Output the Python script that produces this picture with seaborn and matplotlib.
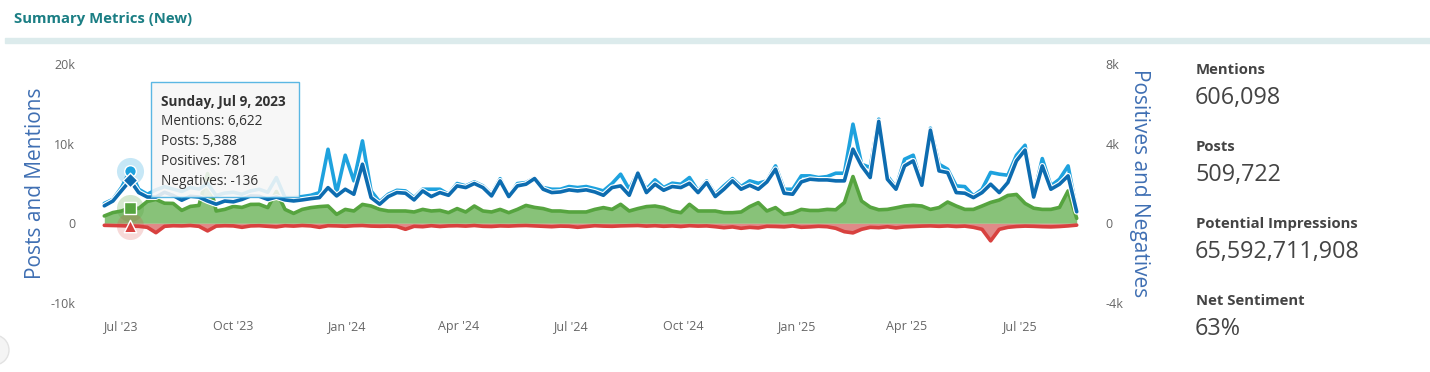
import pandas as pd
import seaborn as sns
import matplotlib.pyplot as plt
import matplotlib.dates as mdates
import matplotlib.patheffects as pe
from matplotlib.patches import Rectangle, Ellipse
from matplotlib.ticker import FuncFormatter

# weekly data, Sundays from Jun 18, 2023
weeks = pd.date_range("2023-06-18", periods=114, freq="7D")

mentions = [
    2500, 3000, 4500, 6622, 4280, 3650, 4200, 4600, 4300, 4000,
    4500, 4300, 5000, 3500, 3800, 3900, 3650, 4070, 4280, 3900,
    5750, 3230, 3230, 3360, 3520, 3850, 9300, 3850, 8550, 5330,
    10350, 4070, 2700, 3650, 4150, 4070, 3230, 4280, 4280, 4280,
    3650, 5000, 4700, 5200, 4700, 3650, 5600, 3360, 4990, 5120,
    5700, 4490, 4280, 4280, 4620, 4490, 4620, 4360, 4070, 4990,
    6170, 4280, 6380, 4280, 5460, 4490, 5040, 4910, 5750, 4070,
    5330, 3650, 4700, 5620, 4620, 5330, 5030, 5330, 7210, 4280,
    4280, 5960, 5960, 5750, 5870, 6290, 6290, 12450, 7420, 7000,
    13080, 5960, 4490, 8050, 8550, 4910, 11950, 7420, 6790, 4700,
    4610, 3440, 4280, 6390, 6170, 6040, 8550, 9800, 3440, 8130,
    4700, 5540, 7210, 1550,
]
posts = [
    2200, 2800, 4100, 5388, 3860, 3300, 3300, 3900, 3500, 2900,
    3400, 3300, 2800, 2400, 2800, 2700, 3000, 3440, 3400, 3000,
    3300, 2940, 2810, 2940, 3100, 3230, 4480, 3440, 4280, 3650,
    7420, 3230, 2400, 3360, 3860, 3780, 2940, 4070, 3360, 3860,
    3520, 4700, 4490, 5000, 4490, 3440, 5330, 3360, 4700, 4910,
    5620, 4280, 3860, 3940, 4200, 4070, 4200, 3940, 3520, 4490,
    4700, 3520, 6300, 3860, 4910, 4150, 4620, 4490, 5030, 3860,
    5120, 3360, 4280, 5330, 4280, 4780, 4280, 5200, 6790, 3780,
    3650, 5200, 5540, 5450, 5450, 5330, 5330, 9310, 7210, 5750,
    12800, 5540, 4280, 7210, 7840, 4780, 11700, 6580, 6370, 3860,
    3780, 3230, 3860, 4910, 3860, 5120, 7840, 9200, 3300, 7210,
    4280, 4910, 5960, 1450,
]
positives = [
    370, 540, 620, 781, 750, 1100, 1200, 1010, 1000, 650,
    850, 900, 2500, 620, 700, 850, 800, 950, 955, 790,
    1600, 700, 500, 700, 790, 840, 870, 450, 700, 620,
    950, 870, 700, 620, 620, 620, 570, 700, 620, 650,
    535, 740, 570, 870, 620, 570, 700, 535, 700, 900,
    800, 740, 620, 620, 570, 570, 570, 700, 790, 700,
    955, 620, 740, 840, 870, 790, 620, 535, 955, 620,
    620, 620, 535, 535, 570, 840, 1040, 620, 790, 450,
    520, 700, 645, 645, 700, 680, 1040, 2350, 1120, 815,
    680, 700, 780, 870, 905, 870, 700, 790, 1070, 870,
    700, 700, 870, 1050, 1170, 1400, 1450, 1000, 760, 700,
    700, 800, 1630, 250,
]
negatives = [
    -100, -110, -120, -136, -150, -200, -470, -150, -120, -130,
    -110, -150, -380, -140, -120, -130, -200, -130, -120, -150,
    -180, -120, -140, -110, -130, -200, -120, -130, -150, -120,
    -110, -140, -150, -140, -160, -300, -150, -170, -120, -160,
    -130, -120, -140, -110, -150, -160, -130, -140, -120, -110,
    -130, -150, -170, -140, -150, -200, -160, -120, -140, -150,
    -130, -120, -110, -140, -120, -150, -130, -160, -120, -140,
    -130, -170, -220, -180, -250, -200, -230, -150, -160, -180,
    -130, -200, -180, -150, -170, -250, -420, -480, -300, -200,
    -220, -170, -230, -180, -160, -140, -130, -150, -130, -160,
    -140, -200, -300, -880, -300, -200, -160, -140, -150, -170,
    -180, -160, -130, -90,
]

month_ticks = pd.date_range("2023-07-01", "2025-07-01", freq="3MS")

summary_labels = ["Mentions", "Posts", "Potential Impressions", "Net Sentiment"]
summary_values = ["606,098", "509,722", "65,592,711,908", "63%"]

hover_idx = 3  # Sunday, Jul 9, 2023

df = pd.DataFrame({"week": weeks, "mentions": mentions, "posts": posts,
                   "positives": positives, "negatives": negatives})

sns.set_theme(style="white")
plt.rcParams["font.family"] = ["Open Sans", "DejaVu Sans"]

W, H = 1430, 372
fig = plt.figure(figsize=(W / 100, H / 100), dpi=100)

# header
fig.text(14 / W, 1 - 19 / H, "Summary Metrics (New)", color="#1b7e84",
         fontsize=10.7, fontweight="bold", va="center")
fig.patches.append(Rectangle((5 / W, 1 - 43 / H), 1425 / W, 5 / H,
                             transform=fig.transFigure, color="#dcebec", zorder=0))
# stray UI knob at bottom-left edge
fig.patches.append(Ellipse((-6 / W, 1 - 350 / H), 30 / W, 30 / H,
                           transform=fig.transFigure, facecolor="#f4f4f4",
                           edgecolor="#e2e2e2", linewidth=1, zorder=0))

ax = fig.add_axes([92 / W, 1 - 303 / H, 997 / W, 239 / H])
ax2 = ax.twinx()
ax.set_zorder(ax2.get_zorder() + 1)
ax.patch.set_visible(False)

# positives / negatives on the right axis
ax2.fill_between(df["week"], 0, df["positives"], color="#88c279", linewidth=0)
ax2.fill_between(df["week"], 0, df["negatives"], color="#e08a88", linewidth=0)
sns.lineplot(data=df, x="week", y="positives", ax=ax2, color="#56a43f", linewidth=2.6)
sns.lineplot(data=df, x="week", y="negatives", ax=ax2, color="#d8413f", linewidth=2.6)

# mentions / posts on the left axis
outline = [pe.Stroke(linewidth=4.2, foreground="white"), pe.Normal()]
sns.lineplot(data=df, x="week", y="mentions", ax=ax, color="#1ea2de", linewidth=2.6)
sns.lineplot(data=df, x="week", y="posts", ax=ax, color="#0d6cb0", linewidth=2.6)
for line in ax.get_lines():
    line.set_path_effects(outline)

# hover markers
d = df["week"][hover_idx]
ax.scatter([d], [mentions[hover_idx]], s=380, color="#1ea2de", alpha=0.25, linewidths=0, zorder=5)
ax.scatter([d], [mentions[hover_idx]], s=70, color="#1ea2de", edgecolors="white", linewidths=1, zorder=6)
ax.scatter([d], [posts[hover_idx]], s=55, marker="D", color="#0d6cb0", edgecolors="white", linewidths=1, zorder=7)
ax2.scatter([d], [positives[hover_idx]], s=380, color="#56a43f", alpha=0.25, linewidths=0, zorder=5)
ax2.scatter([d], [positives[hover_idx]], s=80, marker="s", color="#56a43f", edgecolors="white", linewidths=1, zorder=6)
ax2.scatter([d], [negatives[hover_idx]], s=380, color="#d8413f", alpha=0.2, linewidths=0, zorder=5)
ax2.scatter([d], [negatives[hover_idx]], s=80, marker="^", color="#d8413f", edgecolors="white", linewidths=1, zorder=6)

ax.set_ylim(-10000, 20000)
ax2.set_ylim(-4000, 8000)
ax.set_yticks([-10000, 0, 10000, 20000])
ax2.set_yticks([-4000, 0, 4000, 8000])
kfmt = FuncFormatter(lambda v, p: "0" if v == 0 else f"{int(v / 1000)}k")
ax.yaxis.set_major_formatter(kfmt)
ax2.yaxis.set_major_formatter(kfmt)

ax.set_xlim(weeks[0] - pd.Timedelta(days=10), weeks[-1] + pd.Timedelta(days=10))
ax.set_xticks(month_ticks)
ax.xaxis.set_major_formatter(mdates.DateFormatter("%b '%y"))

ax.tick_params(axis="x", length=8, width=1, color="#ccd6eb", labelcolor="#666666",
               labelsize=9, pad=4)
ax.tick_params(axis="y", length=0, labelcolor="#666666", labelsize=9, pad=12)
ax2.tick_params(axis="y", length=0, labelcolor="#666666", labelsize=9, pad=12)
for a in (ax, ax2):
    for s in a.spines.values():
        s.set_visible(False)
    a.grid(False)

ax.set_xlabel("")
ax.set_ylabel("Posts and Mentions", color="#3f6fb3", fontsize=15)
ax.yaxis.set_label_coords(-0.046, 0.5)
ax2.set_ylabel("Positives and Negatives", color="#3f6fb3", fontsize=15, rotation=270)
ax2.yaxis.set_label_coords(1.061, 0.5)

# tooltip
fig.patches.append(Rectangle((151 / W, 1 - 197 / H), 148 / W, 115 / H,
                             transform=fig.transFigure, facecolor="#f7f7f7", alpha=0.88,
                             edgecolor="#45aee0", linewidth=1, zorder=8))
tip = [(d.strftime("%A, %b ") + str(d.day) + d.strftime(", %Y"), "bold"),
       (f"Mentions: {mentions[hover_idx]:,}", "normal"),
       (f"Posts: {posts[hover_idx]:,}", "normal"),
       (f"Positives: {positives[hover_idx]:,}", "normal"),
       (f"Negatives: {negatives[hover_idx]:,}", "normal")]
for i, (txt, wt) in enumerate(tip):
    fig.text(161 / W, 1 - (102 + 19.8 * i) / H, txt, fontsize=9.8, fontweight=wt,
             color="#333333", va="center", zorder=9)

# summary panel
for i, (lab, val) in enumerate(zip(summary_labels, summary_values)):
    y0 = 70 + 77 * i
    fig.text(1196 / W, 1 - y0 / H, lab, fontsize=10.7, fontweight="bold",
             color="#444444", va="center")
    fig.text(1195 / W, 1 - (y0 + 28) / H, val, fontsize=16.8,
             color="#444444", va="center")

fig.savefig("out.png", dpi=100)
